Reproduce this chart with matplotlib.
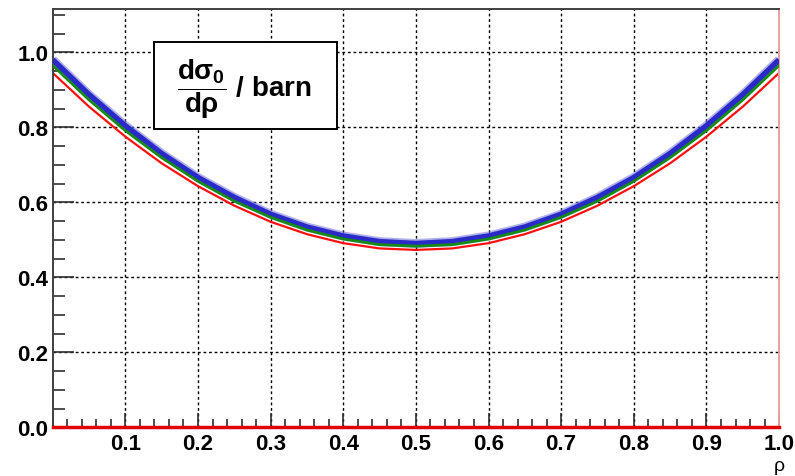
import matplotlib
matplotlib.use("Agg")
import matplotlib.pyplot as plt
from matplotlib.patches import Rectangle
from matplotlib.ticker import MultipleLocator

plt.rcParams['font.family'] = ['Liberation Sans', 'DejaVu Sans']
plt.rcParams['mathtext.fontset'] = 'custom'
plt.rcParams['mathtext.rm'] = 'Liberation Sans:bold'
plt.rcParams['mathtext.it'] = 'Liberation Sans:bold'
plt.rcParams['mathtext.bf'] = 'Liberation Sans:bold'

# valeurs
rho = [0.00, 0.05, 0.10, 0.15, 0.20, 0.25, 0.30, 0.35, 0.40, 0.45, 0.50,
       0.55, 0.60, 0.65, 0.70, 0.75, 0.80, 0.85, 0.90, 0.95, 1.00]
bleu = [0.980, 0.887, 0.804, 0.730, 0.666, 0.613, 0.568, 0.534, 0.510, 0.495, 0.490,
        0.495, 0.510, 0.534, 0.568, 0.613, 0.666, 0.730, 0.804, 0.887, 0.980]
vert = [0.965, 0.873, 0.791, 0.719, 0.656, 0.603, 0.560, 0.526, 0.502, 0.487, 0.483,
        0.487, 0.502, 0.526, 0.560, 0.603, 0.656, 0.719, 0.791, 0.873, 0.965]
rouge = [0.945, 0.855, 0.775, 0.704, 0.643, 0.591, 0.548, 0.515, 0.491, 0.477, 0.473,
         0.477, 0.491, 0.515, 0.548, 0.591, 0.643, 0.704, 0.775, 0.855, 0.945]
xticks = [0.1, 0.2, 0.3, 0.4, 0.5, 0.6, 0.7, 0.8, 0.9, 1.0]
yticks = [0.0, 0.2, 0.4, 0.6, 0.8, 1.0]

fig = plt.figure(figsize=(7.95, 4.77), dpi=100)
ax = fig.add_axes([0.0663, 0.1021, 0.9137, 0.877])

ax.plot(rho, bleu, color='#7a7ae0', lw=6.5, alpha=0.6, solid_capstyle='butt', zorder=3)
ax.plot(rho, bleu, color='#2a2ac8', lw=4, solid_capstyle='butt', zorder=4)
ax.plot(rho, vert, color='#158a15', lw=2, zorder=5)
ax.plot(rho, rouge, color='#ff1010', lw=1.6, zorder=2)
ax.plot([0, 1], [0, 0], color='#e00000', lw=2.5, zorder=6, clip_on=False)

ax.set_xlim(0, 1)
ax.set_ylim(0, 1.1155)
ax.set_xticks(xticks)
ax.set_xticklabels([f"{v:.1f}" for v in xticks])
ax.set_yticks(yticks)
ax.set_yticklabels([f"{v:.1f}" for v in yticks])
ax.xaxis.set_minor_locator(MultipleLocator(0.02))
ax.yaxis.set_minor_locator(MultipleLocator(0.05))

ax.tick_params(axis='both', which='both', direction='in', color='#303030', width=1.2,
               labelsize=16)
ax.tick_params(axis='x', which='major', length=10, pad=4)
ax.tick_params(axis='x', which='minor', length=5.8)
ax.tick_params(axis='y', which='major', length=15, pad=3)
ax.tick_params(axis='y', which='minor', length=8.6)
for lab in ax.get_xticklabels() + ax.get_yticklabels():
    lab.set_fontweight('bold')

ax.grid(True, which='major', color='black', linestyle=(0, (2, 2)), lw=1)

for s in ax.spines.values():
    s.set_color('#404040')
    s.set_linewidth(1.4)
ax.spines['right'].set_color('#e8a0a0')

ax.text(1.0, -0.072, 'ρ', transform=ax.transAxes, ha='center', va='top', fontsize=14)

boite = Rectangle((0.1395, 0.795), 0.2515, 0.2325, facecolor='white', edgecolor='black',
                  lw=1.4, zorder=7)
ax.add_patch(boite)
ax.text(0.264, 0.905, r'$\dfrac{d\sigma_0}{d\rho}$ / barn', ha='center', va='center',
        fontsize=20, fontweight='bold', zorder=8)

fig.savefig('out.png', dpi=100)
